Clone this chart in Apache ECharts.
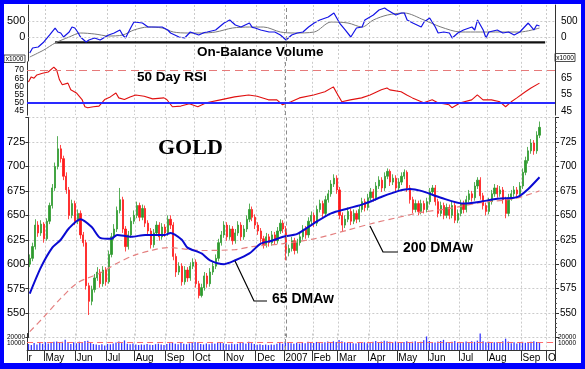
<!DOCTYPE html>
<html><head><meta charset="utf-8">
<script src="https://cdn.jsdelivr.net/npm/echarts@6/dist/echarts.min.js"></script>
<style>
html,body{margin:0;padding:0;background:#0000ff;}
#frame{position:absolute;left:0;top:0;width:585px;height:369px;background:#0000ff;}
#c{position:absolute;left:4px;top:4px;width:577px;height:359px;background:#fff;}
</style></head><body><div id="frame"><div id="c"></div></div>
<script>
// ---------- DATA ----------
const holidays = ['2006-04-14','2006-05-29','2006-07-04','2006-09-04','2006-11-23','2006-12-25','2007-01-01','2007-01-02','2007-01-15','2007-02-19','2007-04-06','2007-05-28','2007-07-04','2007-09-03'];
const monthLabels = ['r','May','Jun','Jul','Aug','Sep','Oct','Nov','Dec','2007','Feb','Mar','Apr','May','Jun','Jul','Aug','Sep','O'];
const firstOpen = 600;
const closes = [606,618,640,632,641,626,644,660,678,700,
718,708,690,676,650,662,644,652,630,622,
578,562,574,586,592,580,594,582,610,628,
636,655,666,636,618,630,644,650,660,648,
657,642,634,620,632,640,628,638,632,646,
640,608,592,598,582,594,586,598,602,580,
568,576,588,580,592,598,606,622,630,640,
628,636,624,632,640,628,636,646,656,648,
640,634,626,620,628,622,630,624,634,642,
636,612,616,624,614,622,628,636,630,644,
650,642,656,662,652,666,672,682,688,676,
650,640,646,654,644,652,646,656,664,658,
668,674,668,680,686,678,690,695,684,688,
678,684,690,694,678,666,656,662,654,662,
656,664,674,678,664,652,660,650,658,650,
660,645,652,662,656,666,672,668,680,686,
670,660,654,664,672,678,672,676,666,652,
668,672,676,672,680,694,706,716,724,716,
732,740];
const highs = [610,622,646,644,645,643,647,663,682,704,
731,722,711,694,679,666,665,656,655,633,
625,581,578,590,597,595,598,597,614,632,
641,659,678,669,639,634,648,655,664,663,
661,660,645,637,636,644,643,642,641,650,
650,643,611,602,601,598,597,602,606,605,
583,580,592,591,596,602,610,626,634,644,
643,640,639,636,644,643,640,650,662,659,
651,643,637,629,632,631,634,633,638,646,
645,639,620,628,627,626,632,640,639,648,
654,653,660,666,665,670,676,686,692,691,
679,653,650,658,657,656,655,660,668,667,
672,678,677,684,690,689,694,698,697,692,
691,688,694,697,696,681,669,666,665,666,
665,668,678,681,681,667,664,663,662,661,
664,663,656,666,665,670,676,675,684,689,
689,673,663,668,676,682,681,680,679,669,
672,676,680,679,684,698,710,720,728,727,
736,746];
const lows = [597,603,615,628,629,622,624,641,657,675,
697,704,686,672,646,647,640,641,626,618,
574,548,558,571,583,576,577,578,580,607,
625,633,652,632,613,615,627,641,647,644,
645,638,630,616,617,629,624,625,628,629,
636,604,587,589,578,579,582,583,595,576,
565,566,573,576,577,589,595,603,619,627,
624,625,620,621,629,624,625,633,643,644,
636,630,622,616,617,618,619,620,621,631,
632,604,608,613,610,611,619,625,626,627,
641,638,639,653,648,649,663,669,679,672,
646,634,637,643,640,641,642,643,653,654,
655,665,664,665,677,674,675,687,680,681,
674,675,681,687,674,662,652,653,650,651,
652,653,661,671,660,648,649,646,647,646,
647,642,642,649,652,653,663,664,665,677,
666,656,650,651,661,669,668,669,662,647,
649,665,669,668,669,677,691,703,713,712,
713,729];
const volume = [9000,7500,10500,8200,11000,9500,12000,10000,11500,12500,
13000,11000,12500,15500,10500,9000,11800,10200,12400,11000,
13500,14000,10500,9000,8200,7500,8800,7000,9200,8600,
9800,11200,12800,10400,14500,9600,8700,9900,8200,7600,
8400,7800,9200,8100,7400,8800,9600,8300,7700,9000,
10200,11800,9400,8600,10800,9300,8700,9900,11400,12200,
10600,9100,8400,9700,8900,10300,9400,10800,11600,10100,
9200,8500,9800,8700,9300,10600,11200,9600,12400,10300,
9000,8100,8900,7600,8300,7400,8200,7900,9300,10800,
9600,12800,11400,10200,9400,10800,9700,11300,10400,12600,
11800,10700,12200,11100,10300,11900,12700,11400,13200,12100,
15200,13400,11600,10900,12300,10400,9800,11200,10600,11700,
10400,11800,12600,13800,11900,12800,14200,13100,12400,11300,
12900,11600,10800,12200,13400,11900,12600,13200,11800,12500,
14800,20500,13600,12300,11400,12800,13600,15400,11900,10800,
12600,13800,11200,10400,11800,12900,11600,13100,12400,14200,
26000,13400,11800,12600,10900,11700,12300,10600,13100,17200,
12800,10400,11600,9800,11200,12400,10900,11800,12600,13400,
12200,11400];
const volRef = 12000;
const ma65Idx = [0,4,8,11,14,18,22,25,29,31,36,41,48,50,54,56,61,64,69,73,78,82,86,90,95,101,107,113,119,125,131,135,139,146,154,160,166,172,174,177,181];
const ma65 = [570,597,617,625,637,646,638,627,626,630,628,630,630,632,625,617,611,604,600,604,611,621,624,628,631,642,652,657,662,669,675,677,675,668,662,664,667,668,670,677,689];
const ma200Idx = [0,5,11,17,25,31,37,43,49,61,73,79,90,101,113,122,131,139,149,160,172,181];
const ma200 = [531,546,565,581,591,601,609,614,617,614,615,618,621,626,635,642,648,653,657,663,667,675];
const obvIdx = [0,1,3,5,7,9,10,11,12,14,15,16,17,18,20,21,23,25,28,30,32,33,34,36,37,40,42,44,47,49,50,53,55,57,60,62,63,66,69,71,73,75,78,79,80,82,85,87,89,91,93,95,97,99,101,103,106,108,110,112,114,116,118,119,122,124,126,127,130,132,133,134,136,139,140,142,144,145,147,149,150,152,154,156,157,158,159,161,162,163,166,168,170,172,174,177,179,180,181];
const obv = [-500,-344,-312,-156,62,281,156,125,0,156,312,281,156,0,-156,-94,-31,-94,62,125,219,62,-31,312,469,437,312,312,312,219,125,0,-31,156,62,140,156,219,437,531,375,312,437,300,281,219,156,156,62,-94,62,125,156,312,437,531,625,750,437,219,0,281,312,531,687,843,906,843,687,750,750,531,437,312,469,594,312,125,156,125,-31,125,219,281,312,219,531,219,-31,156,219,125,156,62,156,437,219,375,344];
const obvMaIdx = [0,5,9,14,18,23,28,33,37,42,47,51,56,61,66,72,78,83,89,94,101,107,113,118,122,127,133,140,146,153,160,167,174,181];
const obvMa = [-625,-406,-188,0,125,94,31,62,219,312,281,156,125,125,156,281,312,312,156,125,156,469,437,312,531,687,750,531,312,156,156,156,156,281];
const obvBaseIdx = [9,183];
const obvBase = [-165,-165];
const obvGridLevels = [0,500];
const rsiIdx = [0,1,2,3,5,7,9,10,11,12,14,15,17,19,20,21,23,25,27,29,31,32,34,36,38,41,44,48,49,51,54,57,60,63,68,73,78,81,85,88,90,93,96,101,105,108,110,111,114,118,121,125,127,128,132,134,136,140,143,145,149,150,153,157,159,161,164,167,169,171,173,176,178,181];
const rsi = [62.7,65.8,65,67,68,68.8,71.8,70,64,61,62,58,56,52,47.6,47,47.6,48,52,53.6,56,53,52,53.6,54.8,54,52.4,53,52,47.6,48,49.4,47.6,50,51.8,53.6,54.8,54,51.8,51.8,48.8,50.6,53,54.8,56.7,59.7,53.6,50.6,51.8,53,54.8,57.9,59,57.9,56.7,54.8,53,50,51.8,50,48.8,47,50,51.8,54.8,51.8,51.8,50.6,47.6,50.6,53,56.7,59,62];
const rsiOverbought = 70, rsiMid = 50;

// ---------- BUILD ----------
const days = [];
for (let d = new Date(Date.UTC(2006,3,13)); d <= new Date(Date.UTC(2007,9,8)); d.setUTCDate(d.getUTCDate()+1)) {
  const wd = d.getUTCDay(); const s = d.toISOString().slice(0,10);
  if (wd === 0 || wd === 6 || holidays.includes(s)) continue;
  days.push(s);
}
const cats = [];
for (let i = 0; i < days.length; i += 2) cats.push(days[i]);
const monthStart = cats.map((c,i) => i === 0 || c.slice(0,7) !== cats[i-1].slice(0,7));
const labelOf = {}; let mi = 0;
monthStart.forEach((f,i) => { if (f) labelOf[i] = monthLabels[mi++]; });
const janIdx = cats.findIndex(c => c.startsWith('2007-01'));
const isMS = (i) => !!monthStart[i];
const ohlc = closes.map((c,i) => [i === 0 ? firstOpen : closes[i-1], c, lows[i], highs[i]]);
const pairs = (ix, v) => ix.map((k,i) => [k, v[i]]);

const FONT = '"Liberation Sans", Arial, sans-serif';
const gridDots = {show:true, interval:isMS, lineStyle:{color:'#cbcbcb', type:[2,2], width:1}};
const L = 23, R = 26;
const grids = [
  {left:L, right:R, top:1, height:56},
  {left:L, right:R, top:57.8, height:53.3},
  {left:L, right:R, top:113.6, height:219.9},
  {left:L, right:R, top:329.5, height:17.5}
];
const xAxes = grids.map((g,gi) => ({
  type:'category', gridIndex:gi, data:cats, boundaryGap:true,
  axisLine:{show: gi === 3, lineStyle:{color:'#333'}},
  axisTick:{show: gi === 3, interval:isMS, length:11, lineStyle:{color:'#333'}},
  axisLabel:{show: gi === 3, interval:isMS, formatter:(v,i) => labelOf[i] || '', align:'left', margin:3, fontSize:10, color:'#000', fontFamily:FONT},
  splitLine:gridDots
}));
function yax(gi, pos, min, max, interval, fmt, fs, opts) {
  return Object.assign({
    type:'value', gridIndex:gi, position:pos, min, max, interval,
    axisLine:{show:true, lineStyle:{color:'#333'}},
    axisTick:{show:false},
    axisLabel:{formatter:fmt, fontSize:fs, color:'#000', fontFamily:FONT, margin:3},
    splitLine:{show:false}
  }, opts || {});
}
const yAxes = [
  yax(0,'left',-750,1000,250, v => (v === 0 || v === 500) ? String(v) : '', 11),
  yax(0,'right',-750,1000,250, v => (v === 0 || v === 500) ? String(v) : '', 10, {axisLabel:{formatter: v => (v === 0 || v === 500) ? String(v) : '', fontSize:10, color:'#000', fontFamily:FONT, margin:6}}),
  yax(1,'left',42.5,75,2.5, v => (v % 5 === 0 && v >= 45 && v <= 70) ? String(v) : '', 8.5),
  yax(1,'right',42.5,75,2.5, v => (v === 45 || v === 55 || v === 65) ? String(v) : '', 10, {axisLabel:{formatter: v => (v === 45 || v === 55 || v === 65) ? String(v) : '', fontSize:10, color:'#000', fontFamily:FONT, margin:6}}),
  yax(2,'left',525,750,25, v => (v > 525 && v < 750) ? String(v) : '', 11, {
    axisTick:{show:true, length:3, lineStyle:{color:'#333'}},
    splitLine:{show:true, lineStyle:{color:'#cbcbcb', type:[2,2]}}
  }),
  yax(2,'right',525,750,25, v => (v > 525 && v < 750) ? String(v) : '', 10, {
    axisTick:{show:true, length:4, lineStyle:{color:'#333'}},
    minorTick:{show:true, splitNumber:5, length:2, lineStyle:{color:'#555'}},
    axisLabel:{formatter: v => (v > 525 && v < 750) ? String(v) : '', fontSize:10, color:'#000', fontFamily:FONT, margin:5}
  }),
  yax(3,'left',0,25000,10000, v => (v === 10000 || v === 20000) ? String(v) : '', 6.5, {axisLabel:{formatter: v => (v === 10000 || v === 20000) ? String(v) : '', fontSize:6.5, color:'#000', fontFamily:FONT, margin:2}}),
  yax(3,'right',0,25000,10000, v => (v === 10000 || v === 20000) ? String(v) : '', 6.5, {axisLabel:{formatter: v => (v === 10000 || v === 20000) ? String(v) : '', fontSize:6.5, color:'#000', fontFamily:FONT, margin:3}})
];
const janLine = (extra) => ({
  silent:true, symbol:['none','none'], label:{show:false}, animation:false,
  data:[{xAxis:cats[janIdx], lineStyle:{color:'#8c8c8c', type:[4,3], width:1}}].concat(extra || [])
});
const series = [
  {type:'line', name:'OBV base', xAxisIndex:0, yAxisIndex:0, data:pairs(obvBaseIdx, obvBase), symbol:'none', lineStyle:{color:'#111', width:2.2}, z:3,
    markLine: janLine(obvGridLevels.map(v => ({yAxis:v, lineStyle:{color:'#cbcbcb', type:[2,2], width:1}})))},
  {type:'line', name:'OBV MA', xAxisIndex:0, yAxisIndex:0, data:pairs(obvMaIdx, obvMa), symbol:'none', smooth:0.3, lineStyle:{color:'#7a7a7a', width:1}},
  {type:'line', name:'OBV', xAxisIndex:0, yAxisIndex:0, data:pairs(obvIdx, obv), symbol:'none', lineStyle:{color:'#1414e6', width:1.2}, z:4},
  {type:'line', name:'RSI', xAxisIndex:1, yAxisIndex:2, data:pairs(rsiIdx, rsi), symbol:'none', lineStyle:{color:'#e01010', width:1.1}, z:4,
    markLine: janLine([
      {yAxis:rsiOverbought, lineStyle:{color:'#e67a7a', type:[8,5], width:1}},
      {yAxis:rsiMid, lineStyle:{color:'#2a2aff', type:'solid', width:2}}
    ])},
  {type:'candlestick', name:'GOLD', xAxisIndex:2, yAxisIndex:4, data:ohlc, barWidth:1.7,
    itemStyle:{color:'#2e9a2e', color0:'#ff1a1a', borderColor:'#2e9a2e', borderColor0:'#ff1a1a', borderWidth:0.8},
    markLine: janLine()},
  {type:'line', name:'200 DMAw', xAxisIndex:2, yAxisIndex:4, data:pairs(ma200Idx, ma200), symbol:'none', smooth:0.3, lineStyle:{color:'#e48080', width:1.2, type:[6,4]}, z:3},
  {type:'line', name:'65 DMAw', xAxisIndex:2, yAxisIndex:4, data:pairs(ma65Idx, ma65), symbol:'none', smooth:0.25, lineStyle:{color:'#0a0ad2', width:2}, z:4},
  {type:'bar', name:'Volume', xAxisIndex:3, yAxisIndex:6, data:volume, barWidth:1.3, itemStyle:{color:'#3636ff'},
    markLine: janLine([{yAxis:volRef, lineStyle:{color:'#ff6a6a', type:[6,4], width:1}}])}
];
const TXT = (x,y,text,font) => ({type:'text', x, y, z:100, style:{text, font, fill:'#000', verticalAlign:'middle'}});
const box = (x,y,w,h) => ({type:'group', x, y, z:100, children:[
  {type:'rect', shape:{x:0,y:0,width:w,height:h}, style:{fill:'#fff', stroke:'#222', lineWidth:0.8}},
  {type:'text', x:w/2, y:h/2+0.5, style:{text:'x1000', font:'6.5px ' + FONT, fill:'#000', align:'center', verticalAlign:'middle'}}
]});
const graphic = [
  TXT(193, 48.5, 'On-Balance Volume', 'bold 13.5px ' + FONT),
  TXT(133, 73, '50 Day RSI', 'bold 13.5px ' + FONT),
  TXT(154, 144, 'GOLD', 'bold 22px "Liberation Serif", "Times New Roman", serif'),
  TXT(268, 295, '65 DMAw', 'bold 14px ' + FONT),
  TXT(399, 244.5, '200 DMAw', 'bold 14px ' + FONT),
  {type:'polyline', z:100, shape:{points:[[231,257],[250,297],[263,297]]}, style:{stroke:'#000', lineWidth:1.2, fill:null}},
  {type:'polyline', z:100, shape:{points:[[366,222],[379,248],[394,248]]}, style:{stroke:'#000', lineWidth:1.2, fill:null}},
  box(0, 51, 21, 7.5),
  box(551, 49.5, 20, 8)
];
const chart = echarts.init(document.getElementById('c'), null, {renderer:'canvas'});
chart.setOption({
  animation:false, backgroundColor:'#ffffff',
  grid:grids, xAxis:xAxes, yAxis:yAxes, series, graphic
});
</script></body></html>
